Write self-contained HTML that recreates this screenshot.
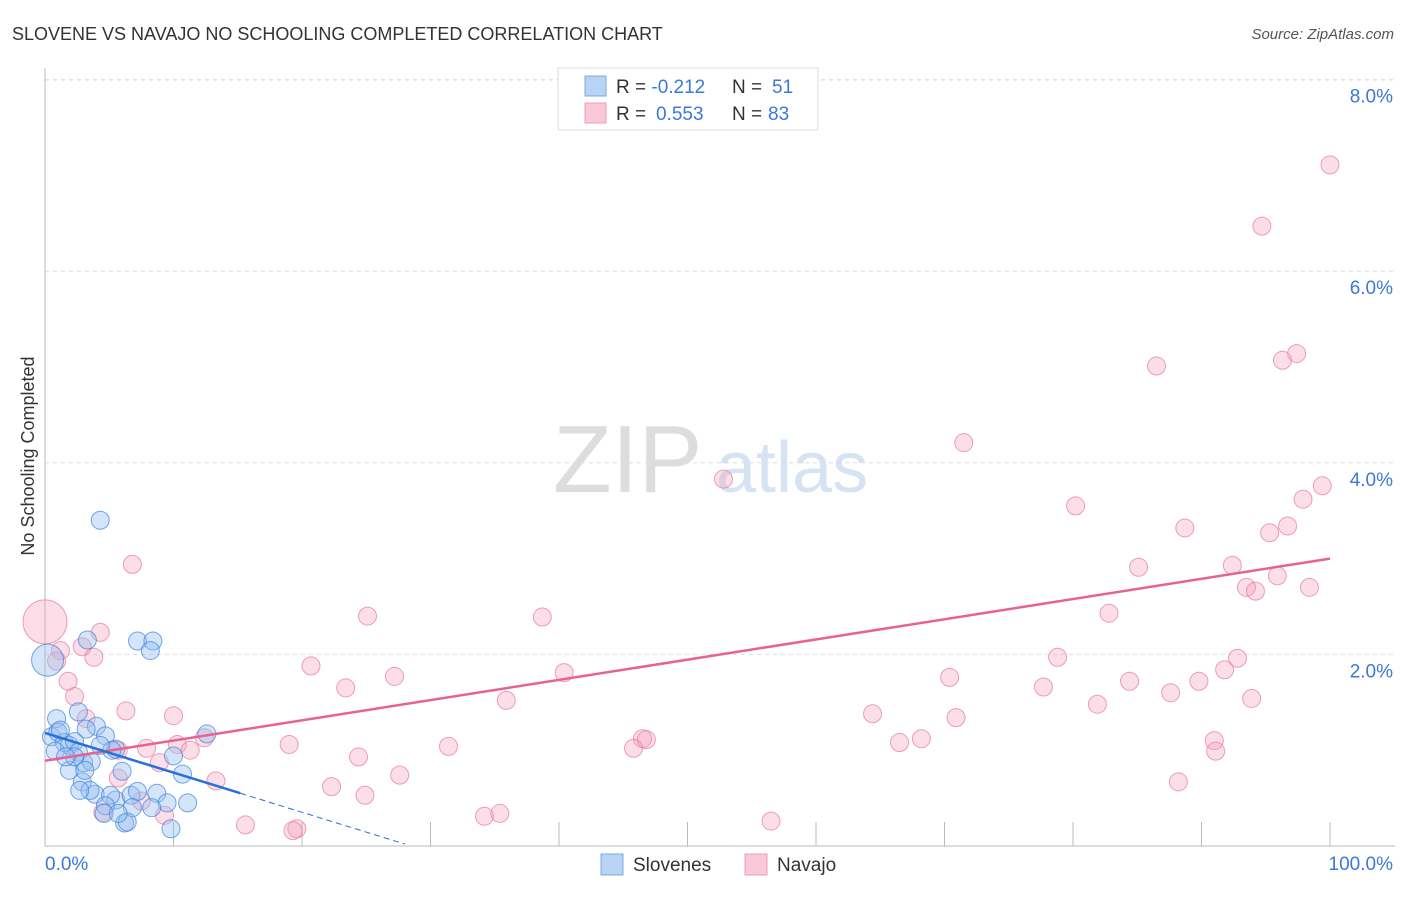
<!DOCTYPE html>
<html><head><meta charset="utf-8"><style>
body{margin:0;background:#fff;font-family:"Liberation Sans",sans-serif;}
svg text{font-family:"Liberation Sans",sans-serif;}
</style></head><body>
<svg id="chart" width="1406" height="892">
<text x="12" y="40" font-size="18" fill="#333">SLOVENE VS NAVAJO NO SCHOOLING COMPLETED CORRELATION CHART</text>
<text x="1394" y="39" font-size="15" fill="#555" text-anchor="end" font-style="italic">Source: ZipAtlas.com</text>
<text transform="translate(34,456) rotate(-90)" font-size="18" fill="#333" text-anchor="middle">No Schooling Completed</text>
<g>
<text x="553" y="492" font-size="96" fill="#ddd" font-family="Liberation Serif,serif">ZIP</text>
<text x="716" y="492" font-size="72" fill="#d6e3f3">atlas</text>
</g>
<g id="grid"></g><g id="axes"></g><g id="pts"></g><g id="trend"></g>
<g>
<rect x="558" y="68" width="260" height="62" fill="#fff" stroke="#ddd"/>
<rect x="585" y="76" width="21" height="20" fill="#b8d3f4" stroke="#7aaae6"/>
<rect x="585" y="103" width="21" height="20" fill="#f9c8d6" stroke="#ee9bb5"/>
<text x="616" y="93" font-size="19" fill="#333">R = <tspan fill="#3b78d8">-0.212</tspan><tspan x="732">N = </tspan><tspan fill="#3b78d8" x="772">51</tspan></text>
<text x="616" y="120" font-size="19" fill="#333">R = <tspan fill="#3b78d8" x="656">0.553</tspan><tspan x="732">N = </tspan><tspan fill="#3b78d8" x="768">83</tspan></text>
</g>
<g>
<rect x="601" y="854" width="22" height="21" fill="#b8d3f4" stroke="#7aaae6"/>
<text x="633" y="871" font-size="19" fill="#333">Slovenes</text>
<rect x="745" y="854" width="22" height="21" fill="#f9c8d6" stroke="#ee9bb5"/>
<text x="777" y="871" font-size="19" fill="#333">Navajo</text>
</g>
</svg>
<script>
const blueX=[4.3,3.3,7.2,8.4,8.2,0.2,0.9,2.6,4.0,3.2,0.5,1.0,1.5,1.9,2.3,0.8,2.6,4.7,5.5,5.2,3.0,3.6,1.9,2.3,6.0,10.7,10.0,12.6,2.9,3.9,3.5,5.5,5.1,6.7,7.2,8.7,9.5,11.1,8.3,6.8,4.7,4.6,6.2,6.4,9.8,5.7,2.7,1.2,4.3,3.1,1.6];
const blueY=[3.40,2.15,2.14,2.14,2.04,1.94,1.33,1.40,1.25,1.22,1.14,1.19,1.08,1.05,1.09,0.99,0.98,1.15,1.01,1.00,0.87,0.88,0.79,0.93,0.78,0.75,0.94,1.17,0.67,0.54,0.58,0.48,0.53,0.53,0.57,0.55,0.45,0.45,0.40,0.40,0.42,0.34,0.24,0.25,0.18,0.34,0.58,1.21,1.05,0.79,0.93];
const pinkX=[100,94.7,97.4,96.3,86.5,71.5,52.8,99.4,97.9,80.2,96.7,95.3,88.7,92.4,85.1,95.9,93.5,94.2,98.4,6.8,25.1,38.7,82.8,4.3,2.9,1.2,3.8,20.7,78.8,92.8,91.8,40.4,27.2,70.4,84.4,89.8,1.8,23.4,77.7,87.6,2.3,35.9,93.9,6.3,64.4,3.2,10.0,70.9,81.9,10.3,12.4,19.0,31.4,46.5,46.8,45.8,68.2,66.5,91.0,91.1,7.9,5.7,11.3,24.4,8.9,27.6,5.7,13.3,22.3,88.2,24.9,7.5,4.5,9.3,15.6,19.6,19.3,34.2,35.4,56.5,0.9];
const pinkY=[7.11,6.47,5.14,5.07,5.01,4.21,3.83,3.76,3.62,3.55,3.34,3.27,3.32,2.93,2.91,2.82,2.70,2.66,2.70,2.94,2.40,2.39,2.43,2.23,2.08,2.04,1.97,1.88,1.97,1.96,1.84,1.81,1.77,1.76,1.72,1.72,1.72,1.65,1.66,1.60,1.56,1.52,1.54,1.41,1.38,1.33,1.36,1.34,1.48,1.06,1.13,1.06,1.04,1.12,1.11,1.02,1.12,1.08,1.10,0.99,1.02,1.00,1.00,0.93,0.87,0.74,0.71,0.68,0.62,0.67,0.53,0.47,0.35,0.32,0.22,0.18,0.16,0.31,0.34,0.26,1.93];
const bigX=[0,0.1];
const bigY=[2.34,1.94];
const yTicks=[2,4,6,8];
const yTickLabels=["2.0%","4.0%","6.0%","8.0%"];
const xTicks=[0,10,20,30,40,50,60,70,80,90,100];
const blueTrend=[1.18,-0.0414];
const pinkTrend=[0.89,0.0211];
const NS="http://www.w3.org/2000/svg";
const sx=v=>45+v*12.85, sy=v=>846-v*95.8;
function mk(p,tag,a){const e=document.createElementNS(NS,tag);for(const k in a)e.setAttribute(k,a[k]);document.getElementById(p).appendChild(e);return e;}
yTicks.forEach((t,i)=>{
 const g=mk('grid','line',{x1:45,x2:1395,y1:sy(t),y2:sy(t),stroke:'#ddd','stroke-dasharray':'4,4'});
 
 
 const l=mk('grid','text',{x:1393,y:sy(t)+23,'font-size':19,fill:'#3b78d8','text-anchor':'end'});l.textContent=yTickLabels[i];
 
 
});
const tg=mk('grid','line',{x1:45,x2:1395,y1:80,y2:80,stroke:'#ddd','stroke-dasharray':'4,4'});


const ax=mk('axes','line',{x1:45,x2:45,y1:68,y2:846,stroke:'#bbb'});


const bx=mk('axes','line',{x1:45,x2:1395,y1:846,y2:846,stroke:'#bbb'});


xTicks.forEach(t=>{const e=mk('axes','line',{x1:sx(t),x2:sx(t),y1:822,y2:846,stroke:'#bbb'});
 
 });
const x0=mk('axes','text',{x:45,y:870,'font-size':19,fill:'#3b78d8'});x0.textContent='0.0%';


const x1=mk('axes','text',{x:1393,y:870,'font-size':19,fill:'#3b78d8','text-anchor':'end'});x1.textContent='100.0%';


pinkX.forEach((x,i)=>{const c=mk('pts','circle',{cx:sx(x),cy:sy(pinkY[i]),r:9,fill:'rgba(244,160,185,0.35)',stroke:'rgba(232,120,155,0.7)','stroke-width':1});
 
 });
const bc=mk('pts','circle',{cx:sx(bigX[0]),cy:sy(bigY[0]),r:22,fill:'rgba(244,160,185,0.35)',stroke:'rgba(232,120,155,0.7)'});


blueX.forEach((x,i)=>{const c=mk('pts','circle',{cx:sx(x),cy:sy(blueY[i]),r:i==5?16:9,fill:'rgba(150,190,240,0.4)',stroke:'rgba(60,130,220,0.7)','stroke-width':1});
 
 });
const pl=mk('trend','line',{x1:sx(0),y1:sy(pinkTrend[0]),x2:sx(100),y2:sy(pinkTrend[0]+100*pinkTrend[1]),stroke:'#e8628f','stroke-width':2.5});


const bl=mk('trend','line',{x1:sx(0),y1:sy(blueTrend[0]),x2:sx(15.2),y2:sy(blueTrend[0]+15.2*blueTrend[1]),stroke:'#2a6fd6','stroke-width':2.5});


const bd=mk('trend','line',{x1:sx(15.2),y1:sy(blueTrend[0]+15.2*blueTrend[1]),x2:sx(28),y2:sy(blueTrend[0]+28*blueTrend[1]),stroke:'#2a6fd6','stroke-width':1,'stroke-dasharray':'6,4'});


</script>
</body></html>
